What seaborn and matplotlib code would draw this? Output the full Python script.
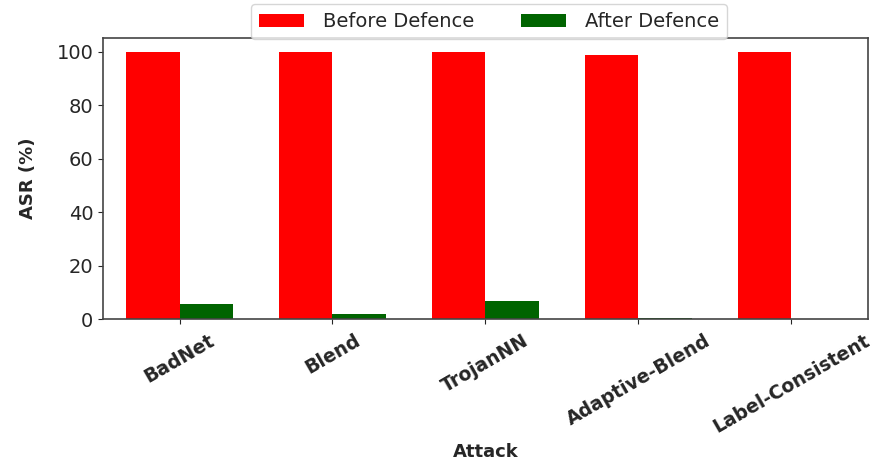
import matplotlib
matplotlib.use("Agg")
import matplotlib.pyplot as plt
import seaborn as sns
import pandas as pd

attacks = ["BadNet", "Blend", "TrojanNN", "Adaptive-Blend", "Label-Consistent"]
before_defence = [100.0, 100.0, 100.0, 98.9, 100.0]
after_defence = [5.6, 2.0, 6.8, 0.5, 0.0]
series_names = ["Before Defence", "After Defence"]
series_colors = ["#ff0000", "#006400"]

df = pd.DataFrame({
    "Attack": attacks * 2,
    "ASR": before_defence + after_defence,
    "Series": [series_names[0]] * len(attacks) + [series_names[1]] * len(attacks),
})

sns.set_style("ticks")
plt.rcParams["font.family"] = ["DejaVu Sans"]

fig, ax = plt.subplots(figsize=(8.89, 4.66), dpi=100)
fig.subplots_adjust(left=0.116, right=0.976, bottom=0.315, top=0.918)

sns.barplot(data=df, x="Attack", y="ASR", hue="Series", order=attacks,
            hue_order=series_names, palette=series_colors, saturation=1,
            width=0.7, ax=ax, errorbar=None, linewidth=0)

ax.set_xlim(-0.5, 4.5)
ax.set_ylim(0, 105)
ax.set_yticks([0, 20, 40, 60, 80, 100])
ax.tick_params(axis="y", labelsize=14)
ax.tick_params(axis="x", labelsize=13.5, pad=5)
for lbl in ax.get_xticklabels():
    lbl.set_rotation(30)
    lbl.set_fontweight("bold")
    lbl.set_ha("center")
ax.set_xlabel("Attack", fontsize=13, fontweight="bold")
ax.xaxis.set_label_coords(0.5, -0.44)
ax.set_ylabel("ASR (%)", fontsize=13, fontweight="bold", labelpad=14)
for s in ax.spines.values():
    s.set_visible(True)
    s.set_color("#444444")
    s.set_linewidth(1.2)

ax.legend(loc="upper center", bbox_to_anchor=(0.505, 1.12), ncol=2,
          fontsize=14, frameon=True, handlelength=2.3, handleheight=0.6,
          columnspacing=2.4, handletextpad=1.0, borderaxespad=0, fancybox=True)

fig.savefig("out.png", dpi=100)
